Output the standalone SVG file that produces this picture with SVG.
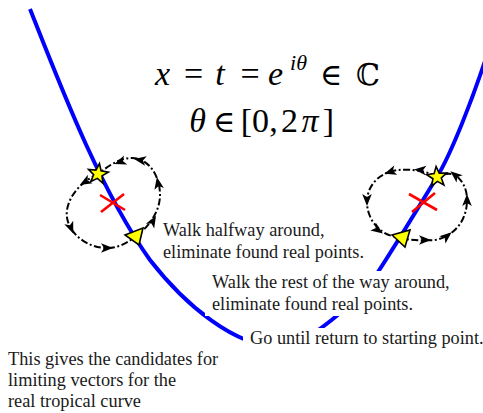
<svg xmlns="http://www.w3.org/2000/svg" width="483" height="413" viewBox="0 0 483 413">
<style>
.curve{fill:none;stroke:#0000ff;stroke-width:4}
.loop{fill:none;stroke:#000;stroke-width:2;stroke-dasharray:7 2.5 2 2.5}
.ah{fill:#000}
.mark{fill:#ffff00;stroke:#000;stroke-width:1.6;stroke-linejoin:miter}
.cross{stroke:#ff0000;stroke-width:2.6;fill:none}
.bg{fill:#fff}
.lbl{font-family:"Liberation Serif","Times New Roman",serif;font-size:18.3px;fill:#1a1a1a}
.math{font-family:"Liberation Serif","DejaVu Serif",serif;font-size:34px;fill:#000;text-anchor:middle}
.sym{font-family:"DejaVu Serif",serif;font-size:30px}
.it{font-style:italic}
</style>
<defs>
<path id="arrow" d="M6,0 L-6,-4.8 L-3,0 L-6,4.8 Z"/>
<polygon id="star" points="0,-10.5 2.6,-3.6 10,-3.25 4.2,1.35 6.17,8.5 0,4.4 -6.17,8.5 -4.2,1.35 -10,-3.25 -2.6,-3.6"/>
</defs>
<rect width="483" height="413" fill="#fff"/>
<g id="connectors">
<path id="real-curve" class="curve" d="M30,9 C60,85 100,190 150,260 C185,305 235,347 280,347 C305,347 360,300 378,272 C393,249 423,200 437,177 C452,152 472,100 486,58"/>
<path id="loop-left" class="loop" d="M98,174 C85,180 70,192 67,210 C64,230 85,248 107,248 C120,248 128,242 135,237 C148,228 160,212 160,195 C160,175 148,158 132,158 C118,158 106,168 98,174 Z"/>
<path id="loop-right" class="loop" d="M437,177 C425,170 410,169 398,170 C380,172 367,185 367,202 C367,220 380,233 392,236 C405,240 420,241 435,240 C455,236 467,220 467,200 C467,188 462,180 455,175 C448,172 442,175 437,177 Z"/>
<g id="arrows-left" class="ah">
<use href="#arrow" transform="translate(120,162) rotate(160)"/>
<use href="#arrow" transform="translate(140,160) rotate(190)"/>
<use href="#arrow" transform="translate(158,183) rotate(259)"/>
<use href="#arrow" transform="translate(153,221) rotate(-60)"/>
<use href="#arrow" transform="translate(107,248) rotate(0)"/>
<use href="#arrow" transform="translate(71,228) rotate(68)"/>
<use href="#arrow" transform="translate(85,182) rotate(150)"/>
</g>
<g id="arrows-right" class="ah">
<use href="#arrow" transform="translate(420,170) rotate(185)"/>
<use href="#arrow" transform="translate(390,172) rotate(162)"/>
<use href="#arrow" transform="translate(367,200) rotate(90)"/>
<use href="#arrow" transform="translate(378,230) rotate(35)"/>
<use href="#arrow" transform="translate(425,240) rotate(0)"/>
<use href="#arrow" transform="translate(447,236) rotate(-40)"/>
<use href="#arrow" transform="translate(467,200) rotate(-90)"/>
<use href="#arrow" transform="translate(455,175) rotate(-140)"/>
</g>
</g>
<g id="cross-left"><path class="cross" d="M100,195 L125,210 M101,212 L124,194"/></g>
<g id="cross-right"><path class="cross" d="M409,194 L437,210 M412,212 L435,193"/></g>
<g id="star-left"><use href="#star" class="mark" transform="translate(98,174) rotate(8)"/></g>
<g id="star-right"><use href="#star" class="mark" transform="translate(437,177) rotate(-5)"/></g>
<g id="tri-left"><polygon class="mark" points="125,235 143,228 139,245"/></g>
<g id="tri-right"><polygon class="mark" points="392,235 410,230 405,247"/></g>
<g id="formula">
<text class="math" y="85"><tspan class="it" x="162.5">x</tspan><tspan x="193.5">=</tspan><tspan class="it" x="220">t</tspan><tspan x="250">=</tspan><tspan class="it" x="275.5">e</tspan><tspan class="it" x="298.5" y="70" font-size="22">iθ</tspan><tspan class="sym" x="331" y="85">∈</tspan><tspan class="sym" x="368" y="85" font-size="32">ℂ</tspan></text>
<text class="math" y="132"><tspan class="it" x="197.5">θ</tspan><tspan class="sym" x="224">∈</tspan><tspan x="246.5">[</tspan><tspan x="260.5">0</tspan><tspan x="273.5">,</tspan><tspan x="289.5">2</tspan><tspan class="it" x="310">π</tspan><tspan x="328.5">]</tspan></text>
</g>
<g id="label-halfway">
<text class="lbl" x="163" y="236">Walk halfway around,</text>
<text class="lbl" x="163" y="258">eliminate found real points.</text>
</g>
<g id="label-rest">
<rect class="bg" x="205" y="271" width="250" height="45"/>
<text class="lbl" x="212" y="288">Walk the rest of the way around,</text>
<text class="lbl" x="212" y="310">eliminate found real points.</text>
</g>
<g id="label-return">
<rect class="bg" x="243" y="328" width="240" height="24"/>
<text class="lbl" x="250" y="344">Go until return to starting point.</text>
</g>
<g id="label-result">
<text class="lbl" x="8" y="365">This gives the candidates for</text>
<text class="lbl" x="8" y="386">limiting vectors for the</text>
<text class="lbl" x="8" y="407">real tropical curve</text>
</g>
</svg>
